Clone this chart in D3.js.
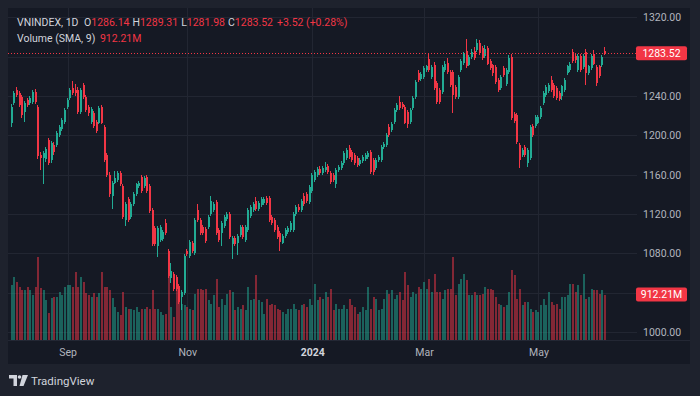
<!DOCTYPE html>
<html>
<head>
<meta charset="utf-8">
<script src="https://cdn.jsdelivr.net/npm/d3@7"></script>
<style>
  html, body { margin: 0; padding: 0; background: #1e222d; }
  svg { display: block; font-family: Roboto, 'Noto Sans', sans-serif; }
</style>
</head>
<body>
<div id="chart"></div>
<script>
// daily VNINDEX candles, Aug 2023 -> Jun 2024
const opens = [1213,1233,1246,1243,1239,1224,1236,1233,1234,1244,1229,1180,1177,1176,1195,1175,1190,1190,1200,1206,
  1214,1229,1238,1248,1246,1246,1224,1251,1239,1229,1214,1223,1214,1213,1229,1208,1180,1160,1138,1152,
  1155,1162,1148,1114,1135,1117,1130,1140,1148,1158,1148,1158,1148,1124,1106,1087,1094,1095,1111,1082,
  1055,1059,1056,1047,1036,1040,1082,1077,1091,1080,1124,1114,1107,1105,1107,1120,1124,1132,1104,1101,
  1108,1115,1120,1089,1096,1091,1099,1107,1094,1104,1118,1124,1133,1125,1129,1131,1136,1136,1117,1114,
  1107,1101,1091,1098,1102,1104,1104,1120,1127,1124,1138,1140,1132,1143,1155,1160,1166,1162,1165,1169,
  1162,1160,1150,1165,1167,1172,1177,1187,1183,1180,1177,1171,1174,1176,1178,1183,1175,1167,1175,1175,
  1188,1190,1208,1205,1214,1226,1234,1232,1229,1224,1214,1228,1239,1263,1257,1259,1266,1278,1259,1271,
  1253,1246,1244,1266,1274,1264,1264,1249,1239,1266,1274,1286,1272,1280,1286,1287,1294,1289,1281,1289,
  1276,1271,1269,1256,1248,1268,1252,1264,1280,1222,1221,1190,1180,1188,1172,1177,1209,1209,1213,1219,
  1233,1241,1245,1256,1251,1248,1243,1240,1246,1263,1266,1285,1281,1266,1281,1269,1285,1263,1268,1283,
  1269,1270,1271,1286.14];
const highs = [1232,1245,1249,1245,1241,1235,1238,1240,1246,1247,1231,1183,1184,1188,1197,1194,1193,1204,1210,1218,
  1228,1238,1248,1255,1252,1249,1248,1253,1241,1231,1229,1225,1216,1230,1231,1210,1182,1163,1154,1164,
  1164,1164,1150,1132,1137,1132,1142,1152,1154,1160,1159,1160,1150,1126,1108,1108,1109,1104,1115,1084,
  1070,1061,1058,1049,1043,1079,1084,1094,1093,1116,1130,1116,1109,1107,1119,1138,1132,1134,1106,1113,
  1119,1122,1122,1098,1098,1100,1109,1109,1109,1126,1129,1132,1137,1133,1137,1137,1138,1138,1119,1116,
  1109,1103,1100,1106,1108,1113,1122,1129,1130,1135,1141,1142,1149,1162,1165,1168,1169,1169,1173,1171,
  1164,1162,1167,1170,1174,1184,1187,1190,1185,1182,1179,1177,1180,1182,1184,1185,1177,1177,1180,1190,
  1193,1202,1211,1214,1228,1233,1240,1234,1231,1226,1228,1240,1256,1266,1264,1270,1272,1284,1271,1275,
  1255,1248,1271,1276,1279,1266,1266,1251,1261,1278,1285,1298,1282,1288,1290,1298,1297,1291,1292,1291,
  1278,1273,1271,1258,1261,1270,1268,1282,1283,1224,1223,1192,1187,1190,1187,1210,1211,1221,1221,1230,
  1245,1251,1253,1260,1253,1250,1245,1251,1258,1272,1275,1288,1283,1283,1283,1283,1288,1272,1283,1287,
  1271,1272,1282,1289.31];
const lows = [1208,1231,1239,1229,1218,1214,1229,1231,1232,1232,1176,1165,1150,1173,1170,1172,1180,1188,1198,1204,
  1212,1227,1236,1241,1240,1222,1222,1237,1224,1220,1212,1207,1202,1211,1211,1173,1158,1137,1125,1150,
  1153,1148,1115,1108,1112,1115,1128,1138,1146,1141,1146,1141,1121,1087,1087,1076,1092,1093,1099,1055,
  1050,1042,1042,1028,1022,1038,1077,1075,1080,1078,1112,1099,1099,1091,1105,1118,1122,1099,1092,1087,
  1106,1113,1095,1074,1087,1078,1097,1095,1092,1102,1116,1122,1123,1123,1127,1129,1129,1112,1109,1102,
  1095,1082,1089,1096,1100,1102,1102,1118,1122,1122,1128,1131,1130,1141,1153,1158,1160,1160,1163,1161,
  1151,1153,1146,1163,1165,1170,1175,1176,1173,1170,1168,1169,1172,1174,1176,1161,1160,1165,1173,1173,
  1186,1188,1198,1203,1212,1224,1226,1227,1211,1207,1212,1226,1237,1254,1255,1257,1264,1264,1257,1246,
  1232,1232,1242,1264,1262,1249,1223,1237,1237,1264,1272,1268,1270,1278,1277,1285,1282,1277,1279,1271,
  1266,1260,1252,1244,1246,1259,1250,1262,1216,1213,1191,1167,1178,1178,1168,1175,1198,1207,1211,1217,
  1231,1239,1243,1244,1238,1236,1235,1236,1244,1261,1264,1274,1274,1264,1264,1267,1251,1261,1266,1271,
  1250,1258,1269,1281.98];
const closes = [1229,1243,1241,1231,1221,1233,1231,1238,1244,1234,1179,1177,1182,1186,1172,1192,1183,1202,1208,1216,
  1226,1236,1246,1243,1243,1224,1246,1239,1226,1223,1227,1209,1204,1228,1213,1175,1160,1140,1152,1157,
  1162,1150,1117,1130,1114,1130,1140,1150,1152,1143,1157,1143,1123,1089,1089,1106,1107,1102,1101,1057,
  1062,1044,1044,1030,1041,1077,1079,1092,1082,1114,1114,1101,1101,1093,1117,1133,1130,1101,1094,1111,
  1117,1120,1097,1096,1089,1098,1107,1097,1107,1124,1127,1130,1125,1131,1135,1135,1131,1114,1111,1104,
  1097,1092,1098,1104,1106,1111,1120,1127,1124,1133,1130,1133,1147,1160,1163,1166,1162,1167,1168,1163,
  1153,1155,1165,1168,1172,1182,1185,1178,1175,1172,1170,1175,1178,1180,1182,1163,1163,1175,1178,1188,
  1191,1200,1200,1212,1226,1231,1228,1229,1213,1212,1226,1238,1254,1256,1262,1268,1270,1266,1269,1248,
  1234,1234,1269,1273,1264,1251,1241,1239,1259,1276,1283,1270,1280,1285,1279,1294,1284,1279,1288,1273,
  1268,1263,1254,1246,1259,1261,1266,1279,1218,1215,1193,1175,1185,1180,1185,1208,1200,1219,1219,1228,
  1243,1249,1251,1246,1240,1238,1237,1250,1256,1270,1273,1276,1277,1281,1266,1281,1263,1270,1281,1273,
  1253,1260,1280,1283.52];
// volume in millions of shares
const volumes = [1100,1260,1170,1070,1000,1000,1070,1000,900,1070,1670,1040,1000,800,540,840,860,860,960,900,
  1060,1100,1100,1060,1360,1060,1260,1160,940,900,860,940,860,940,1360,1060,1060,1000,840,670,
  570,500,960,670,630,630,600,670,570,630,630,670,630,1000,630,630,570,500,530,1700,
  670,470,1070,930,730,700,670,630,600,930,1030,1030,1000,1030,800,730,900,1230,670,830,
  700,930,1000,970,600,670,630,700,600,1070,800,830,1300,800,770,530,830,700,730,700,
  630,600,570,530,630,630,730,630,600,700,730,670,830,700,1130,800,870,830,970,870,
  1030,600,730,630,630,700,630,830,700,670,530,570,670,600,1070,630,870,830,600,630,
  830,1000,930,1000,830,900,970,800,1370,1100,870,970,930,1070,1030,1170,1030,1230,970,1330,
  970,970,830,1000,1030,1030,1670,900,1130,1230,1330,1200,900,900,970,900,900,930,1070,1030,
  1030,1000,870,730,700,670,700,970,1400,1300,830,1030,700,770,770,630,570,600,570,700,
  830,700,970,770,700,730,630,870,870,900,1130,1130,970,1100,900,1330,830,870,1030,1000,
  1000,930,1000,900];
const volumeSma = 912.21;
const lastChange = 3.52;
const lastChangePct = 0.28;

const priceTicks = [1000, 1040, 1080, 1120, 1160, 1200, 1240, 1280, 1320];
const timeTickIdx = [21, 66, 113, 155, 198];
const timeTickLabels = ['Sep', 'Nov', '2024', 'Mar', 'May'];

const upColor = '#22ab94';
const downColor = '#f23645';

const width = 700;
const height = 396;
const pane = { left: 8, right: 637, top: 8, bottom: 340 };

const svg = d3.select('#chart')
  .append('svg')
  .attr('width', width)
  .attr('height', height);

svg.append('rect').attr('width', width).attr('height', height).attr('fill', '#1e222d');
svg.append('rect')
  .attr('x', 8).attr('y', 8)
  .attr('width', 682).attr('height', 356)
  .attr('fill', '#151924');

const x = d3.scaleLinear().domain([0, closes.length - 1]).range([11.7, 605]);
const y = d3.scaleLinear().domain([1000, 1320]).range([332, 17.3]);
const yVol = d3.scaleLinear().domain([0, 2000]).range([pane.bottom, 240]);

// grid
svg.append('g')
  .selectAll('line')
  .data(priceTicks)
  .enter()
  .append('line')
  .attr('x1', pane.left).attr('x2', pane.right)
  .attr('y1', d => Math.round(y(d)) + 0.5)
  .attr('y2', d => Math.round(y(d)) + 0.5)
  .attr('stroke', '#222632');

svg.append('g')
  .selectAll('line')
  .data(timeTickIdx)
  .enter()
  .append('line')
  .attr('x1', d => Math.round(x(d)) + 0.5)
  .attr('x2', d => Math.round(x(d)) + 0.5)
  .attr('y1', pane.top).attr('y2', pane.bottom)
  .attr('stroke', '#222632');

// time axis separator
svg.append('line')
  .attr('x1', pane.left).attr('x2', 690)
  .attr('y1', pane.bottom + 0.5).attr('y2', pane.bottom + 0.5)
  .attr('stroke', '#232734');

const bars = closes.map((c, i) => ({
  i, o: opens[i], h: highs[i], l: lows[i], c, v: volumes[i], up: c >= opens[i]
}));

// volume
svg.append('g')
  .attr('shape-rendering', 'crispEdges')
  .selectAll('rect')
  .data(bars)
  .enter()
  .append('rect')
  .attr('x', d => Math.round(x(d.i)) - 1)
  .attr('width', 2)
  .attr('y', d => yVol(d.v))
  .attr('height', d => yVol(0) - yVol(d.v))
  .attr('fill', d => (d.up ? upColor : downColor))
  .attr('opacity', 0.5);

// candles
const candles = svg.append('g').attr('shape-rendering', 'crispEdges');
candles.selectAll('line')
  .data(bars)
  .enter()
  .append('line')
  .attr('x1', d => Math.round(x(d.i)) - 0.5)
  .attr('x2', d => Math.round(x(d.i)) - 0.5)
  .attr('y1', d => y(d.h))
  .attr('y2', d => y(d.l))
  .attr('stroke', d => (d.up ? upColor : downColor));
candles.selectAll('rect')
  .data(bars)
  .enter()
  .append('rect')
  .attr('x', d => Math.round(x(d.i)) - 1)
  .attr('width', 2)
  .attr('y', d => y(Math.max(d.o, d.c)))
  .attr('height', d => Math.max(1, Math.abs(y(d.o) - y(d.c))))
  .attr('fill', d => (d.up ? upColor : downColor));

// last price line
const last = bars[bars.length - 1];
svg.append('line')
  .attr('x1', pane.left).attr('x2', 636)
  .attr('y1', Math.round(y(last.c)) + 0.5)
  .attr('y2', Math.round(y(last.c)) + 0.5)
  .attr('stroke', downColor)
  .attr('stroke-dasharray', '1,2');

// price axis
const labelBoxes = [y(last.c), yVol(volumeSma)];
const yAxis = svg.append('g')
  .attr('transform', 'translate(640,0)')
  .call(d3.axisRight(y).tickValues(priceTicks.filter(t =>
    labelBoxes.every(b => Math.abs(y(t) - b) > 12))).tickFormat(d3.format('.2f')).tickSize(0));
yAxis.select('.domain').remove();
yAxis.selectAll('text')
  .attr('x', 3)
  .attr('fill', '#b2b5be')
  .style('font-size', '10.5px')
  .style('font-family', 'Roboto, sans-serif');

function priceLabel(yPos, txt) {
  svg.append('rect')
    .attr('x', 636).attr('y', yPos - 7)
    .attr('width', 51).attr('height', 14)
    .attr('rx', 2)
    .attr('fill', downColor);
  svg.append('text')
    .attr('x', 661.5).attr('y', yPos)
    .attr('dy', '0.35em')
    .attr('text-anchor', 'middle')
    .attr('fill', '#ffffff')
    .style('font-size', '10.5px')
    .text(txt);
}
priceLabel(y(last.c), d3.format('.2f')(last.c));
priceLabel(yVol(volumeSma), d3.format('.2f')(volumeSma) + 'M');

// time axis
const xAxis = svg.append('g')
  .attr('transform', 'translate(0,' + pane.bottom + ')')
  .call(d3.axisBottom(x).tickValues(timeTickIdx).tickFormat((d, i) => timeTickLabels[i]).tickSize(0));
xAxis.select('.domain').remove();
xAxis.selectAll('text')
  .attr('y', 12)
  .attr('dy', '0.35em')
  .attr('fill', d => (d === 113 ? '#d1d4dc' : '#b2b5be'))
  .style('font-weight', d => (d === 113 ? 'bold' : 'normal'))
  .style('font-size', '10.5px')
  .style('font-family', 'Roboto, sans-serif');

// legend
const fmt = d3.format('.2f');
const legend1 = svg.append('text').attr('x', 17).attr('y', 26).style('font-size', '10.5px').attr('fill', '#d1d4dc');
legend1.append('tspan').text('VNINDEX, 1D ');
[['O', last.o], ['H', last.h], ['L', last.l], ['C', last.c]].forEach(([k, v]) => {
  legend1.append('tspan').attr('dx', 3).text(k);
  legend1.append('tspan').attr('fill', downColor).text(fmt(v));
});
legend1.append('tspan').attr('dx', 4).attr('fill', downColor)
  .text('+' + fmt(lastChange) + ' (+' + fmt(lastChangePct) + '%)');

const legend2 = svg.append('text').attr('x', 17).attr('y', 42).style('font-size', '10.5px').attr('fill', '#d1d4dc');
legend2.append('tspan').text('Volume (SMA, 9) ');
legend2.append('tspan').attr('dx', 2).attr('fill', downColor).text(fmt(volumeSma) + 'M');

// TradingView mark
const logo = svg.append('g').attr('fill', '#d1d4dc');
logo.append('path').attr('d', 'M9,375 h8 v11 h-3.5 v-7.5 h-4.5 z');
logo.append('circle').attr('cx', 19.5).attr('cy', 377).attr('r', 1.8);
logo.append('path').attr('d', 'M22.5,375 h5.5 l-4.5,11 h-4 z');
svg.append('text')
  .attr('x', 31).attr('y', 381)
  .attr('dy', '0.35em')
  .attr('fill', '#d1d4dc')
  .style('font-size', '11.5px')
  .text('TradingView');
</script>
</body>
</html>
